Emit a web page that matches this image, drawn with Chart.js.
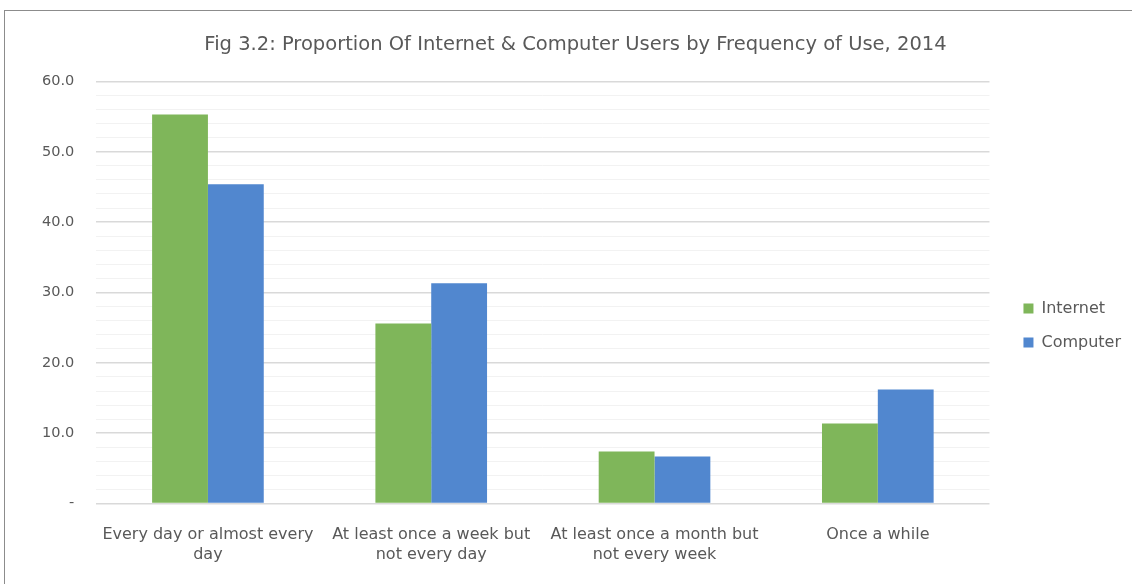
<!DOCTYPE html>
<html>
<head>
<meta charset="utf-8">
<script src="https://cdn.jsdelivr.net/npm/chart.js@4/dist/chart.umd.min.js"></script>
<style>
  body { margin: 0; background: #fff; }
  #frame {
    position: absolute; left: 4px; top: 10px; width: 1140px; height: 590px;
    border: 1px solid #8c8c8c; box-sizing: border-box; background: #fff;
  }
  #wrap { position: absolute; left: 0; top: 0; width: 1128px; height: 574px; }
</style>
</head>
<body>
<div id="frame"><div id="wrap"><canvas id="grafico"></canvas></div></div>
<script>
const categorias = [
  ["Every day or almost every", "day"],
  ["At least once a week but", "not every day"],
  ["At least once a month but", "not every week"],
  "Once a while"
];
const internet = [55.3, 25.6, 7.4, 11.4];
const computer = [45.4, 31.3, 6.7, 16.2];

const fonte = "'DejaVu Sans', sans-serif";
const cinza = "#595959";

new Chart(document.getElementById("grafico"), {
  type: 'bar',
  data: {
    labels: categorias,
    datasets: [
      { label: 'Internet', data: internet, backgroundColor: '#7fb65a' },
      { label: 'Computer', data: computer, backgroundColor: '#5187cf' }
    ]
  },
  options: {
    responsive: true,
    maintainAspectRatio: false,
    animation: false,
    layout: { padding: { left: 15, right: 2, top: 0, bottom: 7 } },
    datasets: { bar: { categoryPercentage: 0.5, barPercentage: 1.0 } },
    plugins: {
      title: {
        display: true,
        text: 'Fig 3.2: Proportion Of Internet & Computer Users by Frequency of Use, 2014',
        color: cinza,
        font: { family: fonte, size: 19.5, weight: 'normal' },
        padding: { top: 22, bottom: 25 }
      },
      legend: {
        position: 'right',
        // título vazio só para baixar a legenda
        title: { display: true, text: ' ', font: { size: 16 }, padding: { top: 21, bottom: 22 } },
        labels: {
          color: cinza,
          font: { family: fonte, size: 16, weight: 'normal' },
          boxWidth: 10, boxHeight: 10, padding: 18
        }
      },
      tooltip: { enabled: false }
    },
    scales: {
      x: {
        grid: { display: false },
        border: { display: false },
        ticks: { color: cinza, font: { family: fonte, size: 16, weight: 'normal' }, maxRotation: 0, autoSkip: false, padding: 14 }
      },
      y: {
        min: 0, max: 60,
        border: { display: false },
        grid: {
          drawTicks: false,
          color: ctx => ctx.tick.value % 10 === 0 ? '#d9d9d9' : '#f2f2f2',
          lineWidth: ctx => ctx.tick.value % 10 === 0 ? 1.5 : 1
        },
        ticks: {
          stepSize: 2,
          autoSkip: false,
          padding: 22,
          color: cinza,
          font: { family: fonte, size: 14.5, weight: 'normal' },
          callback: v => v === 0 ? '-' : (v % 10 === 0 ? v.toFixed(1) : '')
        }
      },
      // espaço vazio entre a área do gráfico e a legenda
      folga: {
        position: 'right',
        grid: { display: false },
        border: { display: false },
        ticks: { display: false },
        afterFit: s => { s.width = 16; }
      }
    }
  }
});
</script>
</body>
</html>
